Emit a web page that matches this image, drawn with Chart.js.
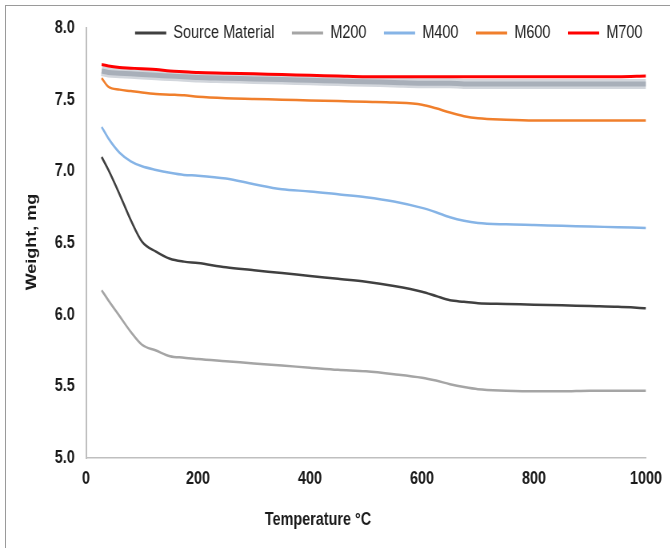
<!DOCTYPE html>
<html>
<head>
<meta charset="utf-8">
<script src="https://cdn.jsdelivr.net/npm/chart.js@4/dist/chart.umd.min.js"></script>
<style>
  html, body { margin: 0; padding: 0; background: #fff; overflow: hidden; width: 670px; height: 548px; }
  #frame { position: absolute; left: 5px; top: 5px; width: 700px; height: 600px;
           border-top: 1px solid #9a9a9a; border-left: 1px solid #9a9a9a; }
  #wrap { position: absolute; left: 0; top: 0; width: 838px; height: 548px;
          transform: scaleX(0.8); transform-origin: 0 0; }
</style>
</head>
<body>
<div id="frame"></div>
<div id="wrap"><canvas id="tga" width="838" height="548"></canvas></div>
<script>
// Temperature (°C) sample points shared by every curve
const temps = [28, 40, 60, 80, 100, 125, 150, 175, 200, 250, 300, 350, 400, 450, 500,
  550, 600, 625, 650, 675, 700, 750, 800, 850, 900, 950, 1000];

// Weight (mg)
const sourceMaterial = [7.10, 7.01, 6.84, 6.66, 6.51, 6.44, 6.39, 6.37, 6.36, 6.33, 6.31, 6.29, 6.27, 6.25, 6.23,
  6.20, 6.16, 6.13, 6.10, 6.09, 6.08, 6.075, 6.07, 6.065, 6.06, 6.055, 6.045];
const m200 = [6.17, 6.10, 5.99, 5.88, 5.79, 5.75, 5.71, 5.70, 5.69, 5.675, 5.66, 5.645, 5.63, 5.615, 5.605,
  5.585, 5.56, 5.54, 5.515, 5.495, 5.48, 5.47, 5.465, 5.465, 5.47, 5.47, 5.47];
const m400 = [7.31, 7.23, 7.13, 7.07, 7.035, 7.01, 6.99, 6.975, 6.97, 6.95, 6.91, 6.875, 6.86, 6.84, 6.82,
  6.79, 6.745, 6.715, 6.68, 6.655, 6.64, 6.63, 6.625, 6.62, 6.615, 6.61, 6.605];
const m600 = [7.65, 7.59, 7.57, 7.56, 7.55, 7.54, 7.535, 7.53, 7.52, 7.51, 7.505, 7.50, 7.495, 7.49, 7.485,
  7.48, 7.465, 7.44, 7.41, 7.385, 7.37, 7.36, 7.355, 7.355, 7.355, 7.355, 7.355];
const m700 = [7.745, 7.735, 7.725, 7.72, 7.715, 7.71, 7.70, 7.695, 7.69, 7.685, 7.68, 7.675, 7.67, 7.665, 7.66,
  7.66, 7.66, 7.66, 7.66, 7.66, 7.66, 7.66, 7.66, 7.66, 7.66, 7.66, 7.665];
// blurred grey trace without a legend entry
const greyBand = [7.70, 7.69, 7.685, 7.68, 7.675, 7.67, 7.665, 7.66, 7.655, 7.65, 7.645, 7.64, 7.635, 7.63, 7.625,
  7.62, 7.615, 7.615, 7.615, 7.61, 7.61, 7.61, 7.61, 7.61, 7.61, 7.61, 7.61];

const xTicks = [0, 200, 400, 600, 800, 1000];
const yTicks = [5.0, 5.5, 6.0, 6.5, 7.0, 7.5, 8.0];

const FONT = '"Liberation Sans", Arial, sans-serif';

function pts(ys) {
  return temps.map((t, i) => ({ x: t, y: ys[i] }));
}

function series(label, ys, color, width) {
  return {
    label: label,
    data: pts(ys),
    borderColor: color,
    backgroundColor: color,
    borderWidth: width,
    pointRadius: 0,
    cubicInterpolationMode: "monotone",
  };
}

const datasets = [
  series("Source Material", sourceMaterial, "#404040", 2.5),
  series("M200", m200, "#a5a5a5", 2.5),
  series("M400", m400, "#86b4e6", 2.5),
  series("M600", m600, "#f07f2c", 2.5),
  series("M700", m700, "#ff0000", 3),
  series("", greyBand, "#a8afb9", 5),
  series("", greyBand, "#d2d6dc", 10),
];

// legend sits over the top of the plot, like the original
const legendPlacement = {
  id: "legendPlacement",
  beforeLayout(chart) {
    const lg = chart.legend;
    if (lg && !lg._patched) {
      const fit = lg.fit;
      lg.fit = function () {
        fit.call(this);
        this.height = 28;
      };
      lg._patched = true;
    }
  },
  afterLayout(chart) {
    const lg = chart.legend;
    lg.top = 2;
    lg.bottom = 60;
    lg.left = 0;
    lg.right = 825;
  },
};

const axisTitles = {
  id: "axisTitles",
  afterDraw(chart) {
    const ctx = chart.ctx;
    const a = chart.chartArea;
    ctx.save();
    ctx.font = "bold 18px " + FONT;
    ctx.fillStyle = "#1a1a1a";
    ctx.textAlign = "center";
    ctx.textBaseline = "middle";
    ctx.fillText("Temperature °C", a.left + 290, a.bottom + 62);
    ctx.translate(a.left - 67, a.top + 214);
    ctx.rotate(-Math.PI / 2);
    ctx.fillText("Weight, mg", 0, 0);
    ctx.restore();
  },
};

new Chart(document.getElementById("tga"), {
  type: "line",
  data: { datasets: datasets },
  plugins: [legendPlacement, axisTitles],
  options: {
    responsive: false,
    animation: false,
    layout: { padding: { left: 0, right: 30.5, top: 0, bottom: 0 } },
    plugins: {
      tooltip: { enabled: false },
      legend: {
        position: "top",
        align: "end",
        labels: {
          boxWidth: 39,
          boxHeight: 3,
          padding: 22,
          color: "#222",
          font: { family: FONT, size: 18 },
          filter: (item) => item.text !== "",
          generateLabels(chart) {
            return Chart.defaults.plugins.legend.labels.generateLabels(chart)
              .map((l) => Object.assign(l, { lineWidth: 0 }));
          },
        },
      },
    },
    scales: {
      x: {
        type: "linear",
        min: 0,
        max: 1000,
        afterFit(scale) { scale.height = 90; },
        afterBuildTicks(scale) { scale.ticks = xTicks.map((v) => ({ value: v })); },
        grid: { display: false, drawTicks: false },
        border: { display: true, color: "#bfbfbf", width: 1.5 },
        ticks: {
          padding: 10,
          color: "#1a1a1a",
          maxRotation: 0,
          font: { family: FONT, size: 18, weight: "bold" },
          callback: (v) => String(v),
        },
      },
      y: {
        min: 5,
        max: 8,
        afterFit(scale) { scale.width = 107.5; },
        afterBuildTicks(scale) { scale.ticks = yTicks.map((v) => ({ value: v })); },
        grid: { display: false, drawTicks: false },
        border: { display: true, color: "#bfbfbf", width: 2 },
        ticks: {
          padding: 14,
          color: "#1a1a1a",
          font: { family: FONT, size: 18, weight: "bold" },
          callback: (v) => Number(v).toFixed(1),
        },
      },
    },
  },
});
</script>
</body>
</html>
